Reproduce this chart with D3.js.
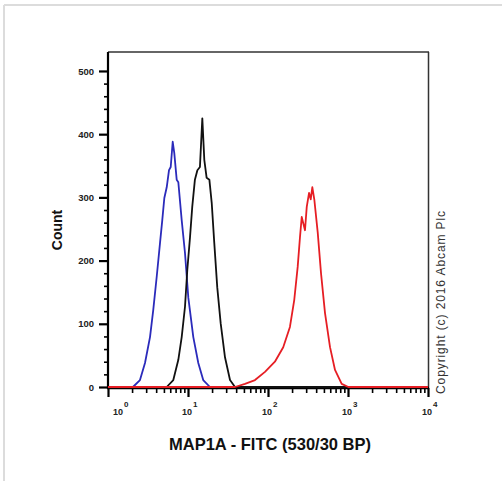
<!DOCTYPE html>
<html><head><meta charset="utf-8">
<script src="https://cdn.jsdelivr.net/npm/d3@7"></script>
<style>body{margin:0;background:#fff}svg{display:block}text{font-family:"Liberation Sans",Arial,sans-serif}</style>
</head><body><svg id="c" width="502" height="481"></svg>
<script>
// Fluorescence intensity (FITC) and event counts per series
const unstainedIntensity = [1, 2.05, 2.51, 2.90, 3.35, 3.68, 4.06, 4.47, 4.77, 5.06, 5.42, 5.79, 6.08, 6.44, 6.74, 7.22, 7.57, 8.34, 9.17, 10.1, 11.65, 13.45, 15.5, 18.8, 10000];
const unstainedCount     = [0, 0, 11, 38, 79, 122, 174, 228, 264, 299, 316, 343, 348, 388, 370, 328, 324, 264, 212, 141, 79, 38, 11, 0, 0];

const isotypeIntensity = [1, 5.42, 6.55, 7.57, 8.34, 9.17, 9.80, 10.6, 11.3, 12.2, 13.1, 14.1, 15.1, 16.0, 17.1, 18.5, 19.8, 21.3, 23.2, 25.6, 29.0, 33.5, 38.7, 10000];
const isotypeCount     = [0, 0, 11, 43, 79, 127, 185, 237, 285, 328, 343, 348, 425, 359, 331, 328, 291, 228, 158, 101, 47, 11, 0, 0];

const map1aIntensity = [1, 38.7, 51.6, 68.8, 91.7, 122, 155, 188, 213, 235, 251, 264, 276, 290, 305, 326, 342, 358, 379, 418, 460, 516, 596, 688, 834, 1009, 10000];
const map1aCount     = [0, 0, 5, 11, 24, 40, 63, 95, 138, 190, 237, 269, 259, 248, 285, 307, 297, 316, 297, 245, 180, 117, 63, 27, 5, 0, 0];

const xMajorTicks = [1, 10, 100, 1000, 10000];
const xTickExponents = ["0", "1", "2", "3", "4"];
const yMajorTicks = [0, 100, 200, 300, 400, 500];

const svg = d3.select("#c");
const x = d3.scaleLog().domain([1, 10000]).range([108, 428]);
const y = d3.scaleLinear().domain([0, 530]).range([387, 52]);

// light page frame
svg.append("line").attr("x1", 4).attr("x2", 502).attr("y1", 5).attr("y2", 5).attr("stroke", "#dcdcdc").attr("stroke-width", 2);
svg.append("line").attr("x1", 4).attr("x2", 4).attr("y1", 5).attr("y2", 481).attr("stroke", "#dcdcdc").attr("stroke-width", 2);

// plot frame (top, right)
svg.append("line").attr("x1", 108).attr("x2", 429).attr("y1", 52).attr("y2", 52).attr("stroke", "#333").attr("stroke-width", 1.5);
svg.append("line").attr("x1", 428.5).attr("x2", 428.5).attr("y1", 52).attr("y2", 388).attr("stroke", "#333").attr("stroke-width", 1.5);

// minor x ticks
const xMinor = [];
for (let d = 1; d < 10000; d *= 10) for (let k = 2; k <= 9; k++) xMinor.push(d * k);
const gxMinor = svg.append("g").attr("transform", "translate(0,388)")
  .call(d3.axisBottom(x).tickValues(xMinor).tickSize(5).tickSizeOuter(0).tickFormat(""));
const gxMajor = svg.append("g").attr("transform", "translate(0,388)")
  .call(d3.axisBottom(x).tickValues(xMajorTicks).tickSize(9).tickSizeOuter(0).tickFormat(""));
[gxMinor, gxMajor].forEach(g => { g.select(".domain").remove(); g.selectAll("line").attr("stroke", "#000").attr("stroke-width", 1.6); });
gxMajor.selectAll("line").attr("stroke-width", 2.2);

// x labels 10^n
xMajorTicks.forEach((v, i) => {
  const dx = i === 0 ? 11 : 0;
  svg.append("text").attr("x", x(v) + dx - 1).attr("y", 415).attr("text-anchor", "middle")
    .attr("font-size", 9).attr("font-weight", "bold").attr("fill", "#222").text("10");
  svg.append("text").attr("x", x(v) + dx + 5).attr("y", 407).attr("text-anchor", "start")
    .attr("font-size", 8).attr("font-weight", "bold").attr("fill", "#222").text(xTickExponents[i]);
});

// y ticks
const yMinor = d3.range(0, 520, 20).filter(v => v % 100 !== 0);
const gyMinor = svg.append("g").attr("transform", "translate(108,0)")
  .call(d3.axisLeft(y).tickValues(yMinor).tickSize(4).tickSizeOuter(0).tickFormat(""));
const gyMajor = svg.append("g").attr("transform", "translate(108,0)")
  .call(d3.axisLeft(y).tickValues(yMajorTicks).tickSize(9).tickPadding(5).tickSizeOuter(0));
[gyMinor, gyMajor].forEach(g => { g.select(".domain").remove(); g.selectAll("line").attr("stroke", "#000").attr("stroke-width", 1.6); });
gyMajor.selectAll("line").attr("stroke-width", 2.2);
gyMajor.selectAll("text").attr("font-size", 9.5).attr("font-weight", "bold").attr("fill", "#222")
  .attr("font-family", '"Liberation Sans",Arial,sans-serif');

// axis lines
svg.append("line").attr("x1", 108).attr("x2", 108).attr("y1", 52).attr("y2", 389).attr("stroke", "#000").attr("stroke-width", 2.2);
svg.append("line").attr("x1", 107).attr("x2", 429).attr("y1", 388).attr("y2", 388).attr("stroke", "#000").attr("stroke-width", 2.4);

// curves
const line = d3.line().x(d => x(d[0])).y(d => y(d[1]));
const series = [
  { xs: unstainedIntensity, ys: unstainedCount, color: "#2b2bbb" },
  { xs: isotypeIntensity, ys: isotypeCount, color: "#111" },
  { xs: map1aIntensity, ys: map1aCount, color: "#e61e24" }
];
series.forEach(s => {
  const pts = s.xs.map((v, i) => [v, s.ys[i]]);
  svg.append("path").datum(pts).attr("d", line).attr("fill", "none")
    .attr("stroke", s.color).attr("stroke-width", 1.8).attr("stroke-linejoin", "round");
});

// axis titles
svg.append("text").attr("transform", "translate(62,230) rotate(-90)").attr("text-anchor", "middle")
  .attr("font-size", 14).attr("font-weight", "bold").attr("fill", "#111").text("Count");
svg.append("text").attr("x", 270).attr("y", 450).attr("text-anchor", "middle")
  .attr("font-size", 16.5).attr("font-weight", "bold").attr("fill", "#111").text("MAP1A - FITC (530/30 BP)");
svg.append("text").attr("transform", "translate(445,302) rotate(-90)").attr("text-anchor", "middle")
  .attr("font-size", 12).attr("letter-spacing", 0.9).attr("fill", "#333").text("Copyright (c) 2016 Abcam Plc");
</script></body></html>
